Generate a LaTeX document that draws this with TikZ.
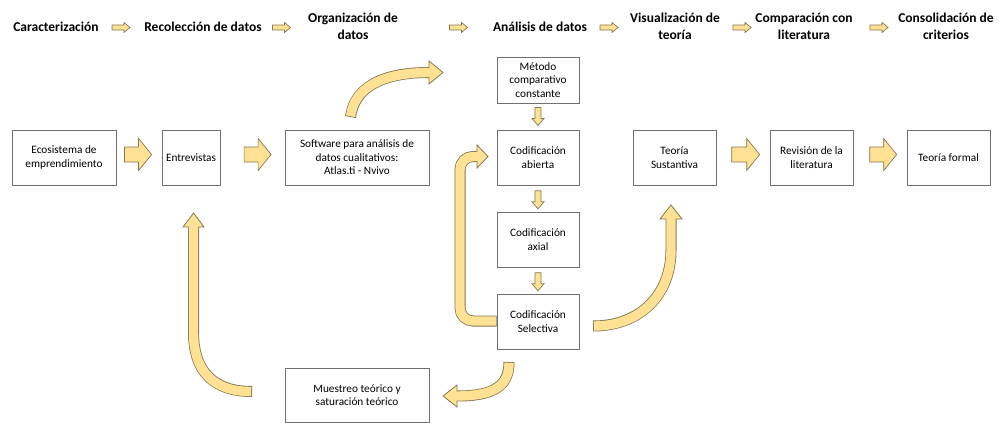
\documentclass[tikz,border=0pt]{standalone}
\usepackage{fontspec}
\setmainfont{Carlito}
\usetikzlibrary{calc}
\definecolor{arrfill}{HTML}{FFE193}
\definecolor{arrline}{HTML}{857754}
\definecolor{boxline}{HTML}{707070}
\newcommand\blkarrow[2]{%
  \draw[line width=11pt, draw=arrline] #1;
  \filldraw[fill=arrfill, draw=arrline, line width=0.8pt, line join=miter] #2;
  \draw[line width=9.4pt, draw=arrfill, shorten <=0.8pt, shorten >=-0.9pt] #1;
}
% straight block arrow: #1 centre, #2 rotation, #3 length, #4 shaft width, #5 head width, #6 head length
\newcommand\strarrow[6]{%
  \begin{scope}[shift={#1}, rotate=#2]
  \filldraw[fill=arrfill, draw=arrline, line width=0.7pt, line join=miter]
    ({-#3/2},{-#4/2}) -- ({#3/2-#6},{-#4/2}) -- ({#3/2-#6},{-#5/2}) -- ({#3/2},0)
    -- ({#3/2-#6},{#5/2}) -- ({#3/2-#6},{#4/2}) -- ({-#3/2},{#4/2}) -- cycle;
  \end{scope}}
\begin{document}
\begin{tikzpicture}[x=1pt,y=-1pt,
  box/.style={draw=boxline, line width=0.8pt, fill=white, align=center,
    inner sep=2pt, font=\fontsize{11.3}{13.5}\selectfont},
  hdr/.style={align=center, font=\fontsize{13.5}{17.5}\selectfont\bfseries}]
\useasboundingbox (0,0) rectangle (999,423);

% headers
\node[hdr] (h1) at (56,26.5) {Caracterización};
\node[hdr] (h2) at (203,26.5) {Recolección de datos};
\node[hdr] (h3) at (353,26.5) {Organización de\\datos};
\node[hdr] (h4) at (540,26.5) {Análisis de datos};
\node[hdr] (h5) at (675,26.5) {Visualización de\\teoría};
\node[hdr] (h6) at (804,26.5) {Comparación con\\literatura};
\node[hdr] (h7) at (946,26.5) {Consolidación de\\criterios};
\strarrow{(121,27.5)}{0}{18}{5}{10}{6}
\strarrow{(281.5,27.5)}{0}{18}{5}{10}{6}
\strarrow{(458.5,27.5)}{0}{18}{5}{10}{6}
\strarrow{(609,27.5)}{0}{18}{5}{10}{6}
\strarrow{(742,27.5)}{0}{18}{5}{10}{6}
\strarrow{(879,27.5)}{0}{18}{5}{10}{6}

% boxes
\node[box, minimum width=104pt, minimum height=55pt] (eco) at (64,157.5) {Ecosistema de\\emprendimiento};
\node[box, minimum width=58pt, minimum height=55pt] (ent) at (191,157.5) {Entrevistas};
\node[box, minimum width=144pt, minimum height=55pt] (soft) at (357,157.5) {Software para análisis de\\datos cualitativos:\\Atlas.ti - Nvivo};
\node[box, minimum width=82pt, minimum height=46pt] (met) at (538,80) {Método\\comparativo\\constante};
\node[box, minimum width=82pt, minimum height=55pt] (abi) at (538,157.5) {Codificación\\abierta};
\node[box, minimum width=82pt, minimum height=55pt] (axi) at (538,239.5) {Codificación\\axial};
\node[box, minimum width=82pt, minimum height=55pt] (sel) at (538,321.5) {Codificación\\Selectiva};
\node[box, minimum width=83pt, minimum height=55pt] (teo) at (674.5,157.5) {Teoría\\Sustantiva};
\node[box, minimum width=83pt, minimum height=55pt] (rev) at (811.5,157.5) {Revisión de la\\literatura};
\node[box, minimum width=83pt, minimum height=55pt] (form) at (948.5,157.5) {Teoría formal};
\node[box, minimum width=144pt, minimum height=54pt] (mue) at (357,395) {Muestreo teórico y\\saturación teórico};

% straight block arrows between boxes
\strarrow{($(eco.east)!0.48!(ent.west)+(0,-3)$)}{0}{27}{15}{32}{13}
\strarrow{($(ent.east)!0.58!(soft.west)+(0,-3)$)}{0}{27}{15}{32}{13}
\strarrow{($(teo.east)!0.55!(rev.west)+(0,-3)$)}{0}{28}{15}{32}{13}
\strarrow{($(rev.east)!0.56!(form.west)+(0,-3)$)}{0}{27}{15}{32}{13}
\strarrow{($(met.south)!0.5!(abi.north)$)}{-90}{18}{6}{12}{7}
\strarrow{($(abi.south)!0.55!(axi.north)$)}{-90}{18}{6}{12}{7}
\strarrow{($(axi.south)!0.55!(sel.north)$)}{-90}{18}{6}{12}{7}

% curved block arrows
\coordinate (At) at (350.5,117);
\coordinate (Ah) at (429,72.5);
\blkarrow{(At) .. controls (354,90) and (378,72.5) .. (Ah)}
  {(429,61) -- (443,72.5) -- (429,84) -- cycle}

\coordinate (Bt) at (sel.west |- 0,321);
\coordinate (Bh) at (477,156.5);
\blkarrow{(Bt) [rounded corners=13pt] -- (460,321) -- (460,156.5) -- (Bh)}
  {(477,145) -- (488,156.5) -- (477,168) -- cycle}

\coordinate (Ct) at (593,326);
\coordinate (Ch) at (671,219);
\blkarrow{(Ct) .. controls (640,326) and (671,295) .. (671,250) -- (Ch)}
  {(660,219) -- (671,205) -- (682,219) -- cycle}

\coordinate (Dt) at (509,362);
\coordinate (Dh) at (457,396);
\blkarrow{(Dt) .. controls (509,386) and (494,396) .. (Dh)}
  {(457,385) -- (443,396) -- (457,407) -- cycle}

\coordinate (Et) at (252,391.5);
\coordinate (Eh) at (193.5,227);
\blkarrow{(Et) .. controls (214,391.5) and (193.5,372) .. (193.5,332) -- (Eh)}
  {(183,227) -- (193.5,213) -- (204,227) -- cycle}
\end{tikzpicture}
\end{document}
